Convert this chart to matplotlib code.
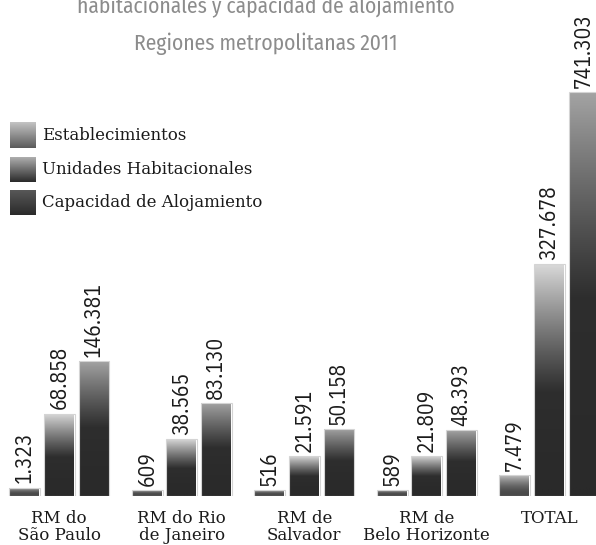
import numpy as np
import matplotlib
matplotlib.use('Agg')
import matplotlib.pyplot as plt
from matplotlib.colors import LinearSegmentedColormap

# ==================================================
regions  = ['RM do\nSão Paulo', 'RM do Rio\nde Janeiro', 'RM de\nSalvador',
            'RM de\nBelo Horizonte', 'TOTAL']
series   = ['Establecimientos', 'Unidades Habitacionales', 'Capacidad de Alojamiento']
estab    = [1323, 609, 516, 589, 7479]
unidades = [68858, 38565, 21591, 21809, 327678]
capacid  = [146381, 83130, 50158, 48393, 741303]
labels   = [['1.323', '609', '516', '589', '7.479'],
            ['68.858', '38.565', '21.591', '21.809', '327.678'],
            ['146.381', '83.130', '50.158', '48.393', '741.303']]
# ==================================================

W, H = 596, 545
fig = plt.figure(figsize=(W/100, H/100), dpi=100)
ax  = fig.add_axes([0, 49/H, 1, 1 - 49/H])

# compressed (non linear) value axis, like the original infographic
def fwd(v):
    v = np.clip(v, 0, None)
    return v**0.7 + 30*v**0.2
_grid = np.concatenate([[0], np.logspace(-3, 7, 2000)])
def inv(u):
    return np.interp(u, fwd(_grid), _grid)
ax.set_yscale('function', functions=(fwd, inv))

cmaps = [LinearSegmentedColormap.from_list('e', [(0, '#c6c6c6'), (1, '#4a4a4a')]),
         LinearSegmentedColormap.from_list('u', [(0, '#dadada'), (0.7, '#2e2e2e'), (1, '#2a2a2a')]),
         LinearSegmentedColormap.from_list('c', [(0, '#a4a4a4'), (0.65, '#2e2e2e'), (1, '#2a2a2a')])]
legmaps = [LinearSegmentedColormap.from_list('le', ['#c4c4c4', '#5a5a5a']),
           LinearSegmentedColormap.from_list('lu', ['#b4b4b4', '#2a2a2a']),
           LinearSegmentedColormap.from_list('lc', ['#5a5a5a', '#2a2a2a'])]

x     = np.arange(len(regions))
width = 0.25
step  = 0.282
grad  = np.linspace(0, 1, 256).reshape(-1, 1)

numfont = ['IBM Plex Sans Condensed', 'DejaVu Sans']
ttlfont = ['Fira Sans Condensed', 'DejaVu Sans']

for k, vals in enumerate([estab, unidades, capacid]):
    bars = ax.bar(x + (k - 1)*step, vals, width, color='none',
                  edgecolor='#d4d4d4', linewidth=0.8, zorder=3)
    for b, v, lab in zip(bars, vals, labels[k]):
        x0 = b.get_x()
        im = ax.imshow(grad, cmap=cmaps[k], extent=[x0, x0 + width, 0, v],
                       aspect='auto', origin='upper', zorder=2)
        im.set_clip_path(b)
        ax.annotate(lab, (x0 + width/2, v), xytext=(0, 3), textcoords='offset points',
                    rotation=90, ha='center', va='bottom', fontsize=15.5,
                    family=numfont, color='#1a1a1a')

ax.set_xlim(-59.3/122.5, (W - 59.3)/122.5)
ax.set_ylim(0, inv(fwd(741303) * 496/403.7))
ax.set_xticks(x, regions, family='DejaVu Serif', fontsize=12, color='#1a1a1a',
              linespacing=1.0)
ax.tick_params(axis='x', length=0, pad=10)
ax.set_yticks([])
for s in ax.spines.values():
    s.set_visible(False)

# legend
leg_y = [135, 169.5, 202.5]
for k, name in enumerate(series):
    yc = leg_y[k]
    lax = fig.add_axes([10/W, 1 - (yc + 13)/H, 26/W, 26/H])
    lax.imshow(grad, cmap=legmaps[k], aspect='auto')
    lax.axis('off')
    fig.text(42/W, 1 - yc/H, name, family='DejaVu Serif', fontsize=12,
             va='center', ha='left', color='#1a1a1a')

fig.text(266/W, 1 - 13/H, 'habitacionales y capacidad de alojamiento',
         family=ttlfont, fontsize=15.5, color='#8c8c8c', ha='center', va='baseline')
fig.text(266/W, 1 - 50/H, 'Regiones metropolitanas 2011',
         family=ttlfont, fontsize=15.5, color='#8c8c8c', ha='center', va='baseline')

plt.savefig('out.png', dpi=100)
